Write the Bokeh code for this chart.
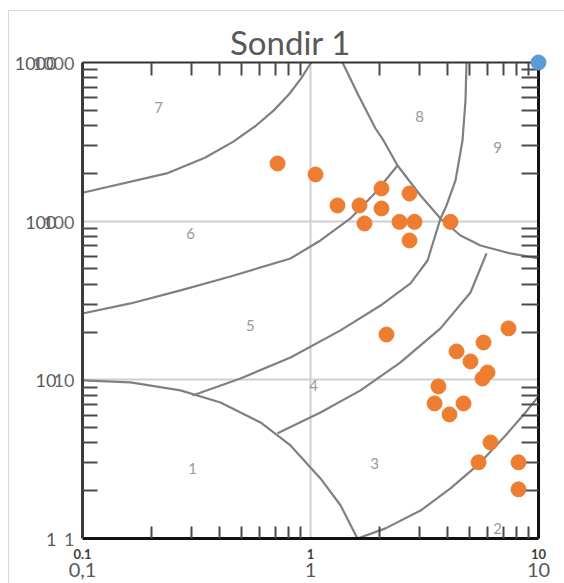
from bokeh.plotting import figure
from bokeh.models import LogAxis, FixedTicker, ColumnDataSource
from bokeh.embed import file_html
from bokeh.resources import INLINE
from bokeh.core.properties import value

# ---------------- data ----------------
title_text = "Sondir 1"

# measured points (friction ratio Fr %, normalised cone resistance Qt)
fr = [0.717, 1.052, 1.313, 1.640, 2.048, 2.048, 1.725, 2.457, 2.858, 2.718, 2.718, 4.11,
      2.154, 7.385, 5.74, 4.37, 5.03, 5.975, 5.68, 3.64, 3.50, 4.07, 4.69, 6.16, 5.46, 8.17, 8.17]
qt = [231, 197, 125.6, 125.6, 160.7, 120.2, 96.7, 99.0, 99.0, 149.4, 75.6, 99.0,
      19.3, 21.1, 17.2, 15.1, 13.06, 11.13, 10.2, 9.09, 7.10, 6.05, 7.10, 4.03, 3.02, 3.02, 2.04]

# second series (single point)
ref_fr = [10]
ref_qt = [1000]

# axis ticks / labels
x_ticks = [0.1, 1, 10]
x_labels_chart = ["0,1", "1", "10"]
x_labels_image = ["0.1", "1", "10"]
y_ticks = [1, 10, 100, 1000]
y_labels_chart = ["1", "10", "100", "1000"]
y_labels_image = ["1", "10", "100", "1000"]

# soil behaviour zone numbers
zone_text = ["1", "2", "3", "4", "5", "6", "7", "8", "9"]
zone_fr = [0.3038, 6.61, 1.909, 1.031, 0.5454, 0.2977, 0.2154, 3.007, 6.61]
zone_qt = [2.765, 1.158, 2.973, 9.22, 22.0, 83.7, 520, 456.7, 291]

# zone boundaries (Fr, Qt)
b1_fr = [0.1, 0.1624, 0.269, 0.403, 0.6034, 0.8172, 1.106, 1.354, 1.607]
b1_qt = [9.91, 9.63, 8.58, 7.20, 5.39, 3.86, 2.39, 1.62, 1.0]

b2_fr = [1.607, 2.133, 3.038, 4.111, 5.455, 7.166, 8.770, 10]
b2_qt = [1.0, 1.158, 1.50, 2.07, 2.93, 4.46, 6.23, 7.86]

b34_fr = [0.717, 1.106, 1.657, 2.481, 3.717, 5.032, 5.913]
b34_qt = [4.60, 6.23, 8.58, 12.87, 21.1, 35.5, 62.6]

b45_fr = [0.3038, 0.493, 0.8172, 1.354, 2.028, 2.745, 3.261, 3.717, 3.950, 4.325, 4.642, 4.784, 4.833]
b45_qt = [7.97, 10.2, 13.84, 20.5, 29.4, 40.5, 56.5, 104.0, 125.6, 180.5, 322.5, 576, 1000]

b56_fr = [0.1, 0.1624, 0.269, 0.4457, 0.8172, 1.106, 1.497, 1.928, 2.408]
b56_qt = [26.2, 30.3, 36.6, 44.8, 58.2, 75.6, 104.0, 151.6, 224.4]

b67_fr = [0.1, 0.234, 0.344, 0.457, 0.574, 0.692, 0.805, 0.910, 1.007]
b67_qt = [151, 200, 251, 316, 398, 501, 631, 794, 1000]

b8_fr = [1.382, 1.624, 1.928, 2.090, 2.408, 3.038, 3.717, 4.549, 5.566, 7.536, 10]
b8_qt = [1000, 619.6, 383.8, 322.5, 224.4, 145.2, 104.0, 81.2, 70.3, 62.6, 58.2]

boundaries = [(b1_fr, b1_qt), (b2_fr, b2_qt), (b34_fr, b34_qt), (b45_fr, b45_qt),
              (b56_fr, b56_qt), (b67_fr, b67_qt), (b8_fr, b8_qt)]

# ---------------- styling ----------------
FONT = "Lato"
GREY_TXT = "#595959"
LINE_GREY = "#808080"

minor_x = [m * d for d in (0.1, 1) for m in range(2, 10)]
minor_y = [m * d for d in (1, 10, 100) for m in range(2, 10)]

chart_border = ("linear-gradient(#d9d9d9,#d9d9d9) 8px 10px / 1px 100% no-repeat, "
                "linear-gradient(#d9d9d9,#d9d9d9) 8px 10px / 100% 1px no-repeat, #ffffff")

p = figure(frame_width=456, frame_height=476,
           x_axis_type="log", y_axis_type="log",
           x_range=(0.1, 10), y_range=(1, 1000),
           output_backend="svg", toolbar_location=None, title=None,
           min_border_left=82, min_border_right=26, min_border_top=62, min_border_bottom=45,
           background_fill_color="white",
           styles={"background": chart_border})
p.border_fill_alpha = 0
p.outline_line_color = None

p.xgrid.grid_line_color = "#cfcfcf"
p.xgrid.grid_line_width = 2
p.ygrid.grid_line_color = "#cfcfcf"
p.ygrid.grid_line_width = 2
p.xgrid.ticker = FixedTicker(ticks=x_ticks)
p.ygrid.ticker = FixedTicker(ticks=y_ticks)

xb = p.xaxis[0]
yl = p.yaxis[0]
xb.ticker = FixedTicker(ticks=[], minor_ticks=minor_x)
yl.ticker = FixedTicker(ticks=[], minor_ticks=minor_y)
xa = LogAxis(ticker=FixedTicker(ticks=[], minor_ticks=minor_x))
yr = LogAxis(ticker=FixedTicker(ticks=[], minor_ticks=minor_y))
p.add_layout(xa, "above")
p.add_layout(yr, "right")

def style_axis(ax, line_color, line_width, tick_in):
    ax.axis_line_color = line_color
    ax.axis_line_width = line_width
    ax.major_tick_in = 0
    ax.major_tick_out = 0
    ax.minor_tick_in = tick_in
    ax.minor_tick_out = 0
    ax.minor_tick_line_color = "#4a4a4a"
    ax.minor_tick_line_width = 2

style_axis(xb, "#111111", 3, 12)
style_axis(yl, "#3a3a3a", 3, 15)
style_axis(xa, "#333333", 2, 13)
style_axis(yr, "#111111", 3, 17)

# zone boundary curves
for bx, by in boundaries:
    p.line(bx, by, line_color=LINE_GREY, line_width=2.2)

# zone numbers
zsrc = ColumnDataSource(dict(x=zone_fr, y=zone_qt, t=zone_text))
p.text(x="x", y="y", text="t", source=zsrc, text_font=value(FONT), text_font_size="15px",
       text_color="#9a9a9a", text_align="center", text_baseline="middle")

# series (overlay level so that the corner point is not clipped)
r1 = p.scatter(fr, qt, size=15, color="#ED7D31", line_color="#ED7D31")
r2 = p.scatter(ref_fr, ref_qt, size=15, color="#5B9BD5", line_color="#5B9BD5")
r1.level = "overlay"
r2.level = "overlay"

def outside_text(xs, ys, texts, xo, yo, size, color, align, style="normal"):
    src = ColumnDataSource(dict(x=xs, y=ys, t=texts))
    r = p.text(x="x", y="y", text="t", source=src, x_offset=xo, y_offset=yo,
               text_font=value(FONT), text_font_size=size, text_font_style=style,
               text_color=color, text_align=align, text_baseline="middle")
    r.level = "overlay"
    return r

# chart tick labels (Excel style)
outside_text([x_ticks[0]] * 0 + [0.1] * len(y_ticks), y_ticks, y_labels_chart, -26, 1,
             "18px", GREY_TXT, "right")
outside_text(x_ticks, [1] * len(x_ticks), x_labels_chart, 0, 31, "20px", GREY_TXT, "center")
# tick labels printed on the background chart image
outside_text([0.1] * len(y_ticks), y_ticks, y_labels_image, -8, 1, "18px", "#666666", "right")
outside_text(x_ticks, [1] * len(x_ticks), x_labels_image, 0, 15, "13px", "#3f3f3f",
             "center", "bold")
# title
outside_text([1], [1000], [title_text], -20, -21, "33px", GREY_TXT, "center")

open("out.html", "w").write(file_html(p, INLINE))
